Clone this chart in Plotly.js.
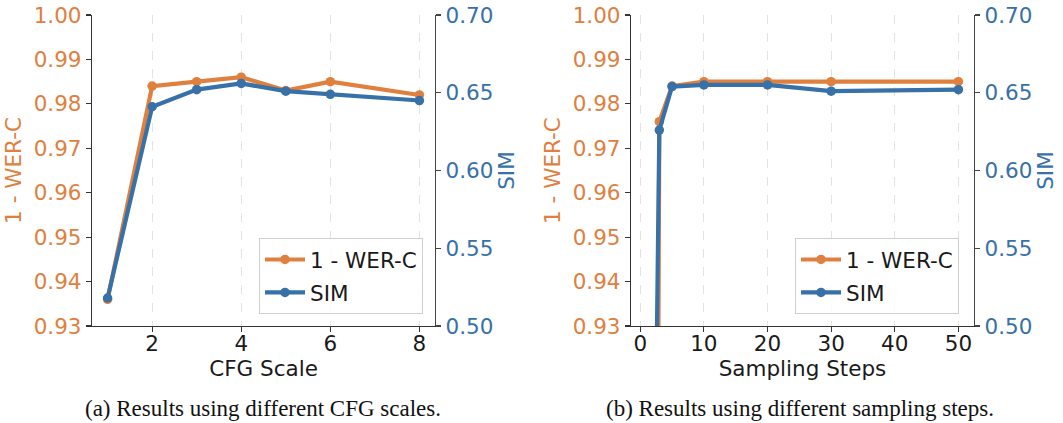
<!DOCTYPE html>
<html>
<head>
<meta charset="utf-8">
<script src="https://cdn.plot.ly/plotly-3.0.1.min.js"></script>
<style>html,body{margin:0;padding:0;background:#fff;}#chart{width:1063px;height:423px;}</style>
</head>
<body>
<div id="chart"></div>
<script>
// Panel (a): CFG scale
const cfgScales = [1, 2, 3, 4, 5, 6, 8];
const cfgWer = [0.936, 0.984, 0.985, 0.986, 0.983, 0.985, 0.982];
const cfgSim = [0.518, 0.641, 0.652, 0.656, 0.651, 0.649, 0.645];

// Panel (b): sampling steps
const steps = [1, 2, 3, 5, 10, 20, 30, 50];
const stepWer = [0.30, 0.62, 0.976, 0.984, 0.985, 0.985, 0.985, 0.985];
const stepSim = [0.10, 0.28, 0.626, 0.654, 0.655, 0.655, 0.651, 0.652];

const werName = '1 - WER-C';
const simName = 'SIM';
const captionA = '(a) Results using different CFG scales.';
const captionB = '(b) Results using different sampling steps.';

const ORANGE = '#E0803F';
const BLUE = '#3771A8';
const FONT = 'DejaVu Sans, Liberation Sans, sans-serif';
const FS = 21.5;

function tr(x, y, name, color, xa, ya, leg, grp) {
  return {
    x: x, y: y, name: name, type: 'scatter', mode: 'lines+markers',
    line: {color: color, width: 4.2},
    marker: {color: color, size: 9.5},
    xaxis: xa, yaxis: ya, legend: leg, legendgroup: grp, showlegend: true
  };
}

const data = [
  tr(cfgScales, cfgWer, werName, ORANGE, 'x', 'y', 'legend', 'a1'),
  tr(cfgScales, cfgSim, simName, BLUE, 'x', 'y2', 'legend', 'a2'),
  tr(steps, stepWer, werName, ORANGE, 'x2', 'y3', 'legend2', 'b1'),
  tr(steps, stepSim, simName, BLUE, 'x2', 'y4', 'legend2', 'b2')
];

const ML = 92, MR = 89, MT = 15, MB = 97;
const PW = 1063 - ML - MR;
const leftDom = [0, 343 / PW];
const rightDom = [(631 - ML) / PW, 1];

const tickFont = (c) => ({family: FONT, size: FS, color: c});
const xBase = {
  showline: true, linecolor: '#333', linewidth: 1.2,
  ticks: 'outside', ticklen: 5, tickwidth: 1.2, tickcolor: '#333',
  showgrid: true, gridcolor: '#e3e3e3', griddash: 'dash', gridwidth: 1,
  zeroline: false, tickfont: tickFont('#1a1a1a'), automargin: false,
  ticklabelstandoff: -7
};
const yLeft = {
  showline: true, linecolor: '#333', linewidth: 1.2,
  ticks: 'outside', ticklen: 5, tickwidth: 1.2, tickcolor: '#333',
  showgrid: false, zeroline: false, tickfont: tickFont(ORANGE),
  range: [0.93, 1.0], tick0: 0.93, dtick: 0.01, tickformat: '.2f', automargin: false
};
const yRight = {
  showline: true, linecolor: '#444', linewidth: 1.2,
  ticks: 'outside', ticklen: 5, tickwidth: 1.2, tickcolor: '#444',
  showgrid: false, zeroline: false, tickfont: tickFont(BLUE),
  range: [0.5, 0.7], tick0: 0.5, dtick: 0.05, tickformat: '.2f', side: 'right', automargin: false
};

const legBase = {
  xanchor: 'right', y: (326 - 314) / 311, yanchor: 'bottom',
  bgcolor: 'rgba(255,255,255,0.85)', bordercolor: '#d0d0d0', borderwidth: 1,
  font: {family: FONT, size: FS, color: '#1a1a1a'},
  traceorder: 'grouped', tracegroupgap: 2, itemwidth: 40
};

const titleFont = (c) => ({family: FONT, size: FS, color: c});

const layout = {
  width: 1063, height: 423,
  margin: {l: ML, r: MR, t: MT, b: MB},
  paper_bgcolor: '#fff', plot_bgcolor: '#fff',
  font: {family: FONT, size: FS, color: '#1a1a1a'},
  xaxis: Object.assign({}, xBase, {domain: leftDom, anchor: 'y', range: [0.65, 8.35], tickvals: [2, 4, 6, 8],
    title: {text: 'CFG Scale', font: titleFont('#1a1a1a'), standoff: 0}}),
  yaxis: Object.assign({}, yLeft, {anchor: 'x',
    title: {text: werName, font: titleFont(ORANGE), standoff: 6}}),
  yaxis2: Object.assign({}, yRight, {anchor: 'x', overlaying: 'y',
    title: {text: simName, font: titleFont(BLUE), standoff: 6}}),
  xaxis2: Object.assign({}, xBase, {domain: rightDom, anchor: 'y3', range: [-1.45, 52.45], tick0: 0, dtick: 10,
    title: {text: 'Sampling Steps', font: titleFont('#1a1a1a'), standoff: 0}}),
  yaxis3: Object.assign({}, yLeft, {anchor: 'x2',
    title: {text: werName, font: titleFont(ORANGE), standoff: 6}}),
  yaxis4: Object.assign({}, yRight, {anchor: 'x2', overlaying: 'y3',
    title: {text: simName, font: titleFont(BLUE), standoff: 6}}),
  legend: Object.assign({}, legBase, {x: (423 - ML) / PW}),
  legend2: Object.assign({}, legBase, {x: (959 - ML) / PW}),
  annotations: [
    {text: captionA, xref: 'paper', yref: 'paper', x: (262.5 - ML) / PW, y: -(408 - 326) / 311,
      xanchor: 'center', yanchor: 'middle', showarrow: false,
      font: {family: 'Liberation Serif, Times New Roman, serif', size: 23, color: '#111'}},
    {text: captionB, xref: 'paper', yref: 'paper', x: (799.5 - ML) / PW, y: -(408 - 326) / 311,
      xanchor: 'center', yanchor: 'middle', showarrow: false,
      font: {family: 'Liberation Serif, Times New Roman, serif', size: 23, color: '#111'}}
  ],
  showlegend: true
};

Plotly.newPlot('chart', data, layout, {displayModeBar: false, staticPlot: true});
</script>
</body>
</html>
